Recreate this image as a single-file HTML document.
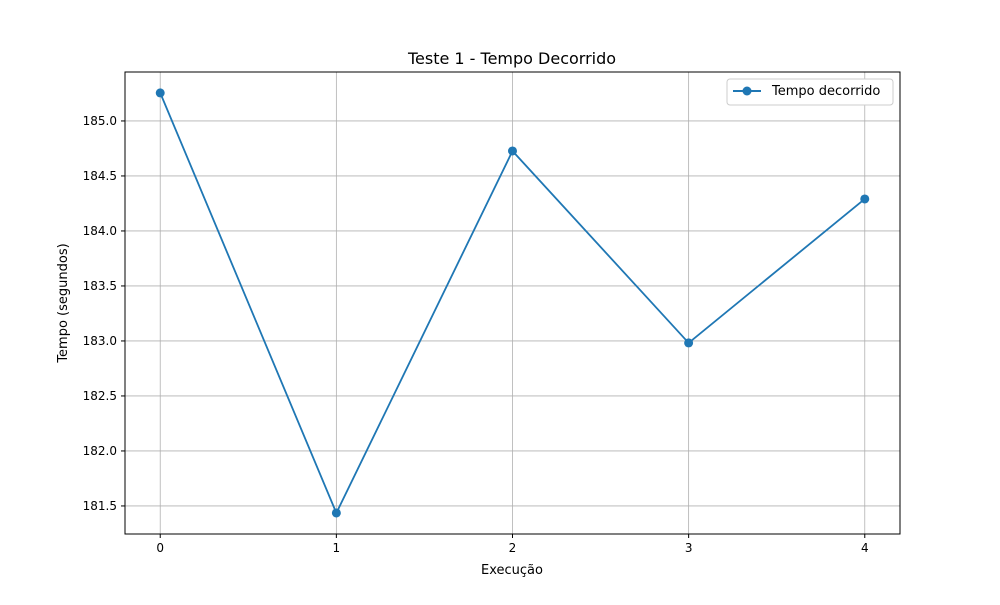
<!DOCTYPE html>
<html><head><meta charset="utf-8"><style>
body{margin:0;background:#fff;}
svg text{font-family:"DejaVu Sans","Liberation Sans",sans-serif;fill:#000;}
</style></head><body>
<svg width="1000" height="600" xmlns="http://www.w3.org/2000/svg">
<g id="grid"></g>
<g id="ticks"></g>
<rect x="125" y="72" width="775" height="462" fill="none" stroke="#000" stroke-width="1"/>
<g id="series"></g>
<text x="512" y="64" font-size="16" text-anchor="middle">Teste 1 - Tempo Decorrido</text>
<text x="512" y="574" font-size="13" text-anchor="middle">Execução</text>
<text transform="translate(67,303) rotate(-90)" font-size="13" text-anchor="middle">Tempo (segundos)</text>
<g>
<rect x="727" y="79" width="166" height="26" rx="3" fill="#fff" stroke="#ccc"/>
<line x1="733" y1="91" x2="761" y2="91" stroke="#1f77b4" stroke-width="2"/>
<circle cx="747" cy="91" r="4.5" fill="#1f77b4"/>
<text x="772" y="95" font-size="13">Tempo decorrido</text>
</g>
</svg>
<script>
const xCategories=[0,1,2,3,4];
const tempoValues=[185.255,181.436,184.727,182.982,184.291];
const yTicks=[181.5,182.0,182.5,183.0,183.5,184.0,184.5,185.0];
const yTickLabels=["181.5","182.0","182.5","183.0","183.5","184.0","184.5","185.0"];
const NS="http://www.w3.org/2000/svg";
const L=125,R=900,T=72,B=534;
const xMin=-0.2,xMax=4.2,yMin=181.245,yMax=185.445;
const xs=v=>L+(v-xMin)/(xMax-xMin)*(R-L);
const ys=v=>B-(v-yMin)/(yMax-yMin)*(B-T);
function mk(tag,attrs,parent){const e=document.createElementNS(NS,tag);for(const k in attrs)e.setAttribute(k,attrs[k]);parent.appendChild(e);return e;}
const grid=document.getElementById('grid'),ticks=document.getElementById('ticks'),ser=document.getElementById('series');
xCategories.forEach(c=>{const x=xs(c);
let g=mk('line',{x1:x,x2:x,y1:T,y2:B,stroke:'#b0b0b0','stroke-width':0.8},grid);


let t=mk('line',{x1:x,x2:x,y1:B,y2:B+4,stroke:'#000'},ticks);


let l=mk('text',{x:x,y:B+18,'font-size':12,'text-anchor':'middle'},ticks);l.textContent=String(c);

});
yTicks.forEach((v,i)=>{const y=ys(v);
let g=mk('line',{x1:L,x2:R,y1:y,y2:y,stroke:'#b0b0b0','stroke-width':0.8},grid);


let t=mk('line',{x1:L-4,x2:L,y1:y,y2:y,stroke:'#000'},ticks);


let l=mk('text',{x:L-8,y:y+4,'font-size':12,'text-anchor':'end'},ticks);l.textContent=yTickLabels[i];

});
const pts=xCategories.map((c,i)=>xs(c)+','+ys(tempoValues[i])).join(' ');
let pl=mk('polyline',{points:pts,fill:'none',stroke:'#1f77b4','stroke-width':1.8},ser);


xCategories.forEach((c,i)=>{let p=mk('circle',{cx:xs(c),cy:ys(tempoValues[i]),r:4.5,fill:'#1f77b4'},ser);

});
</script>
</body></html>
